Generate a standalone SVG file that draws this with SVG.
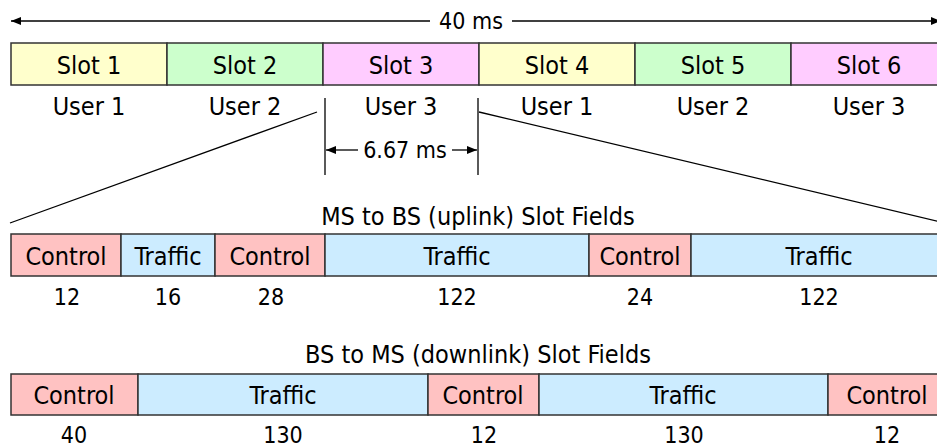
<svg xmlns="http://www.w3.org/2000/svg" width="937" height="447" viewBox="0 0 937 447">
<defs>
<style>
text{font-family:"DejaVu Sans Condensed","DejaVu Sans",sans-serif;font-size:25px;fill:#000;text-anchor:middle}
text.n{font-size:23px}
.cell{stroke:#333;stroke-width:1.5}
.y{fill:#FFFFCC}.g{fill:#CCFFCC}.p{fill:#FFCCFF}
.c{fill:#FFC2C2}.t{fill:#CCECFF}
.ln{stroke:#000;stroke-width:1.3;fill:none}
</style>
<marker id="ah" viewBox="0 0 10 8" refX="10" refY="4" markerWidth="10" markerHeight="8" markerUnits="userSpaceOnUse" orient="auto-start-reverse"><path d="M0,0L10,4L0,8z" fill="#000"/></marker>
</defs>
<rect width="937" height="447" fill="#fff"/>
<g id="connectors">
<line class="ln" x1="430" y1="21" x2="11" y2="21" marker-end="url(#ah)"/>
<line class="ln" x1="512" y1="21" x2="941" y2="21" marker-end="url(#ah)"/>
<line class="ln" x1="325" y1="98" x2="325" y2="175"/>
<line class="ln" x1="478" y1="98" x2="478" y2="175"/>
<line class="ln" x1="317" y1="112" x2="10" y2="223"/>
<line class="ln" x1="479" y1="112" x2="945" y2="223"/>
<line class="ln" x1="358" y1="150" x2="326" y2="150" marker-end="url(#ah)"/>
<line class="ln" x1="452" y1="150" x2="477" y2="150" marker-end="url(#ah)"/>
</g>
<g id="labels">
<text class="n" x="471" y="29">40 ms</text>
<text class="n" x="405" y="158">6.67 ms</text>
<text x="478" y="225">MS to BS (uplink) Slot Fields</text>
<text x="478" y="363">BS to MS (downlink) Slot Fields</text>
</g>
<g id="slots">
<g id="slot1"><rect class="cell y" x="11" y="43" width="156" height="42"/><text x="89" y="74">Slot 1</text><text x="89" y="115">User 1</text></g>
<g id="slot2"><rect class="cell g" x="167" y="43" width="156" height="42"/><text x="245" y="74">Slot 2</text><text x="245" y="115">User 2</text></g>
<g id="slot3"><rect class="cell p" x="323" y="43" width="156" height="42"/><text x="401" y="74">Slot 3</text><text x="401" y="115">User 3</text></g>
<g id="slot4"><rect class="cell y" x="479" y="43" width="156" height="42"/><text x="557" y="74">Slot 4</text><text x="557" y="115">User 1</text></g>
<g id="slot5"><rect class="cell g" x="635" y="43" width="156" height="42"/><text x="713" y="74">Slot 5</text><text x="713" y="115">User 2</text></g>
<g id="slot6"><rect class="cell p" x="791" y="43" width="156" height="42"/><text x="869" y="74">Slot 6</text><text x="869" y="115">User 3</text></g>
</g>
<g id="uplink">
<g id="u1"><rect class="cell c" x="11" y="234" width="110" height="42"/><text x="66" y="265">Control</text><text class="n" x="67" y="305">12</text></g>
<g id="u2"><rect class="cell t" x="121" y="234" width="94" height="42"/><text x="168" y="265">Traffic</text><text class="n" x="168" y="305">16</text></g>
<g id="u3"><rect class="cell c" x="215" y="234" width="110" height="42"/><text x="270" y="265">Control</text><text class="n" x="271" y="305">28</text></g>
<g id="u4"><rect class="cell t" x="325" y="234" width="264" height="42"/><text x="457" y="265">Traffic</text><text class="n" x="457" y="305">122</text></g>
<g id="u5"><rect class="cell c" x="589" y="234" width="102" height="42"/><text x="640" y="265">Control</text><text class="n" x="640" y="305">24</text></g>
<g id="u6"><rect class="cell t" x="691" y="234" width="256" height="42"/><text x="819" y="265">Traffic</text><text class="n" x="819" y="305">122</text></g>
</g>
<g id="downlink">
<g id="d1"><rect class="cell c" x="11" y="374" width="127" height="41"/><text x="74" y="404">Control</text><text class="n" x="74" y="443">40</text></g>
<g id="d2"><rect class="cell t" x="138" y="374" width="290" height="41"/><text x="283" y="404">Traffic</text><text class="n" x="283" y="443">130</text></g>
<g id="d3"><rect class="cell c" x="428" y="374" width="111" height="41"/><text x="483" y="404">Control</text><text class="n" x="484" y="443">12</text></g>
<g id="d4"><rect class="cell t" x="539" y="374" width="289" height="41"/><text x="683" y="404">Traffic</text><text class="n" x="684" y="443">130</text></g>
<g id="d5"><rect class="cell c" x="828" y="374" width="119" height="41"/><text x="887" y="404">Control</text><text class="n" x="887" y="443">12</text></g>
</g>
</svg>
